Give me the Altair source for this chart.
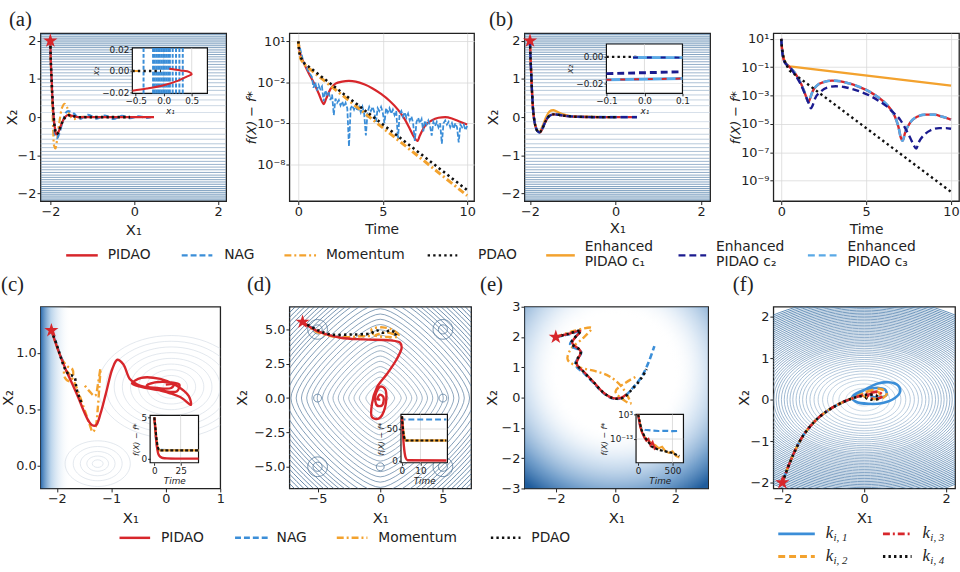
import altair as alt
import pandas as pd

# =============================== data ===============================
# (a) phase plane
A_PIDAO_X = [-2.0, -1.99, -1.97, -1.95, -1.92, -1.89, -1.86, -1.82, -1.76, -1.68, -1.6, -1.5, -1.35, -1.1, -0.6, 0.0, 0.47]
A_PIDAO_Y = [2.0, 1.5, 1.0, 0.5, 0.0, -0.3, -0.45, -0.42, -0.25, -0.05, 0.05, 0.04, 0.0, 0.0, 0.0, 0.0, 0.0]
A_NAG_X = [-2.0, -1.99, -1.97, -1.94, -1.91, -1.88, -1.84, -1.78, -1.7, -1.6, -1.45, -1.3, -1.1, -0.9, -0.7, -0.5, -0.3, -0.1, 0.1, 0.3, 0.4]
A_NAG_Y = [2.0, 1.5, 0.9, 0.3, -0.2, -0.5, -0.55, -0.4, -0.1, 0.15, 0.1, -0.05, 0.06, -0.04, 0.04, -0.05, 0.03, -0.03, 0.02, -0.02, 0.0]
A_MOM_X = [-2.0, -1.99, -1.97, -1.95, -1.93, -1.91, -1.88, -1.84, -1.78, -1.72, -1.66, -1.6, -1.54, -1.45, -1.3, -1.1]
A_MOM_Y = [2.0, 1.4, 0.8, 0.2, -0.4, -0.75, -0.82, -0.6, -0.1, 0.25, 0.35, 0.25, 0.05, -0.05, 0.0, 0.0]
A_PDAO_X = [-2.0, -1.99, -1.97, -1.95, -1.92, -1.89, -1.86, -1.82, -1.76, -1.68, -1.6, -1.5, -1.35, -1.1, -0.6, -0.1]
A_PDAO_Y = [2.0, 1.5, 1.0, 0.5, 0.0, -0.3, -0.44, -0.42, -0.26, -0.06, 0.04, 0.04, 0.0, 0.0, 0.0, 0.0]
AB_LEVELS = [0.12, 0.3, 0.45, 0.58, 0.7, 0.8, 0.9, 0.99, 1.08, 1.16, 1.24, 1.31, 1.38, 1.45, 1.52, 1.58,
             1.64, 1.7, 1.76, 1.82, 1.87, 1.92, 1.97, 2.02, 2.07, 2.12, 2.17]
# (a) inset
AI_PIDAO_X = [-0.56, -0.3, 0.0, 0.25, 0.42, 0.5, 0.46, 0.3, 0.1]
AI_PIDAO_Y = [-0.018, -0.016, -0.013, -0.009, -0.005, -0.003, -0.001, 0.0005, 0.002]
AI_PDAO_X = [-0.56, -0.05]
AI_PDAO_Y = [0.0, 0.0]
AI_MOM_X = [-0.56, -0.45]
AI_MOM_Y = [0.0, 0.0]
AI_NAG_X = [-0.36, -0.19, -0.16, -0.13, -0.1, -0.07, -0.04, -0.01, 0.02, 0.05, 0.08, 0.11, 0.16, 0.22, 0.28, 0.34]
# (a) right: f(X)-f* vs time (log10 exponents)
A2_PIDAO_T = [0, 0.1, 0.3, 0.6, 0.9, 1.2, 1.4, 1.5, 1.65, 1.9, 2.2, 2.6, 3.0, 3.4, 3.9, 4.4, 4.9, 5.4, 5.9, 6.3,
              6.6, 6.85, 7.05, 7.2, 7.5, 7.9, 8.3, 8.7, 9.1, 9.5, 10.0]
A2_PIDAO_E = [1, 0.2, -0.5, -1.3, -2.0, -2.8, -3.4, -3.6, -3.2, -2.5, -2.1, -1.95, -1.9, -1.95, -2.15, -2.45, -2.85,
              -3.35, -4.0, -4.7, -5.4, -6.0, -6.3, -5.9, -5.2, -4.8, -4.6, -4.55, -4.65, -4.85, -5.1]
A2_NAG_T = [0, 0.3, 0.6, 0.8, 0.9, 1.0, 1.1, 1.2, 1.3, 1.4, 1.5, 1.6, 1.7, 1.8, 1.9, 2.0, 2.1, 2.2, 2.3, 2.4,
            2.5, 2.6, 2.7, 2.8, 2.9, 3.0, 3.1, 3.2, 3.3, 3.4, 3.5, 3.6, 3.7, 3.8, 3.9, 4.0, 4.1, 4.2, 4.3, 4.4,
            4.5, 4.6, 4.7, 4.8, 4.9, 5.0, 5.1, 5.2, 5.3, 5.4, 5.5, 5.6, 5.7, 5.8, 5.9, 6.0, 6.1, 6.2, 6.3, 6.4,
            6.5, 6.6, 6.7, 6.8, 6.9, 7.0, 7.1, 7.2, 7.3, 7.4, 7.5, 7.6, 7.7, 7.8, 7.9, 8.0, 8.1, 8.2, 8.3, 8.4,
            8.5, 8.6, 8.7, 8.8, 8.9, 9.0, 9.1, 9.2, 9.3, 9.4, 9.5, 9.6, 9.7, 9.8, 9.9, 10.0]
A2_NAG_E = [1, -0.5, -1.2, -1.6, -2.4, -2.0, -2.6, -2.2, -2.5, -2.3, -3.4, -2.6, -2.9, -2.7, -3.3, -2.9, -4.4,
            -3.2, -3.5, -3.3, -3.7, -3.4, -3.8, -3.5, -3.9, -6.7, -3.9, -3.7, -4.0, -3.7, -4.1, -3.8, -4.2, -3.8,
            -4.3, -5.9, -4.2, -3.8, -4.1, -3.8, -4.2, -4.9, -3.9, -4.1, -3.8, -4.2, -5.0, -3.9, -4.2, -3.9, -4.3,
            -4.0, -4.4, -4.1, -6.2, -4.3, -4.1, -4.5, -4.2, -4.6, -4.3, -4.8, -4.5, -5.0, -6.3, -4.9, -4.6, -5.0,
            -4.7, -5.6, -4.8, -5.1, -4.8, -5.2, -5.9, -4.9, -5.2, -4.9, -5.3, -5.0, -6.5, -5.0, -4.8, -5.1, -4.9,
            -5.3, -5.0, -5.4, -5.0, -5.3, -6.4, -5.1, -5.3, -5.1, -5.5, -5.2]
A2_PDAO_T = [0, 0.05, 0.15, 0.35, 10.0]
A2_PDAO_E = [1, 0.2, -0.2, -0.6, -9.9]
A2_MOM_T = [0, 0.05, 0.15, 0.35, 10.0]
A2_MOM_E = [1, 0.3, -0.3, -0.7, -10.3]
# (b) phase plane
B_X = [-2.0, -1.99, -1.97, -1.95, -1.92, -1.88, -1.83, -1.77, -1.71, -1.64, -1.56, -1.46, -1.33, -1.15, -0.9, -0.5, 0.0, 0.5]
B_Y = [2.0, 1.6, 1.1, 0.6, 0.1, -0.2, -0.36, -0.4, -0.3, -0.12, 0.02, 0.07, 0.06, 0.03, 0.01, 0.0, 0.0, 0.0]
B_C1_X = [-2.0, -1.99, -1.97, -1.95, -1.92, -1.88, -1.83, -1.77, -1.7, -1.62, -1.54, -1.45, -1.33, -1.18, -1.0, -0.7, -0.3, 0.0]
B_C1_Y = [2.0, 1.6, 1.1, 0.6, 0.1, -0.2, -0.35, -0.37, -0.22, 0.0, 0.15, 0.18, 0.12, 0.06, 0.02, 0.01, 0.0, 0.0]
B_PDAO_X = [-2.0, -1.99, -1.97, -1.95, -1.92, -1.88, -1.83, -1.77, -1.71, -1.64, -1.56, -1.46, -1.33, -1.15, -0.9, -0.5, 0.0]
B_PDAO_Y = [2.0, 1.6, 1.1, 0.6, 0.1, -0.2, -0.36, -0.4, -0.3, -0.12, 0.02, 0.07, 0.06, 0.03, 0.01, 0.0, 0.0]
# (b) inset
BI_PDAO_X = [-0.1, -0.02]
BI_PDAO_Y = [0.0, 0.0]
BI_TOP_X = [-0.03, 0.1]
BI_TOP_Y = [-0.0005, -0.0006]
BI_MID_X = [-0.1, 0.1]
BI_MID_Y = [-0.0126, -0.0112]
BI_LOW_X = [-0.1, 0.1]
BI_LOW_Y = [-0.0172, -0.0163]
# (b) right (log10 exponents)
B2_C1_T = [0, 0.05, 0.15, 0.3, 0.5, 10.0]
B2_C1_E = [1, 0.3, -0.4, -0.8, -0.95, -2.3]
B2_PDAO_T = [0, 0.05, 0.15, 0.3, 0.5, 10.0]
B2_PDAO_E = [1, 0.3, -0.4, -0.85, -1.25, -9.8]
B2_C3_T = [0, 0.05, 0.15, 0.3, 0.5, 0.8, 1.1, 1.35, 1.5, 1.6, 1.7, 1.85, 2.1, 2.5, 3.0, 3.5, 4.0, 4.5, 5.0, 5.5,
           6.0, 6.4, 6.7, 6.9, 7.05, 7.15, 7.3, 7.6, 8.0, 8.5, 9.0, 9.5, 10.0]
B2_C3_E = [1, 0.2, -0.5, -0.8, -1.0, -1.4, -2.0, -2.7, -3.2, -3.5, -3.2, -2.7, -2.3, -2.05, -1.95, -2.0, -2.15,
           -2.35, -2.6, -2.95, -3.4, -3.9, -4.5, -5.2, -6.0, -6.2, -5.6, -4.9, -4.5, -4.35, -4.35, -4.5, -4.7]
B2_C2_T = [0, 0.05, 0.15, 0.3, 0.5, 0.8, 1.1, 1.4, 1.6, 1.75, 1.85, 2.0, 2.3, 2.7, 3.2, 3.7, 4.2, 4.7, 5.2, 5.7,
           6.2, 6.6, 7.0, 7.3, 7.6, 7.8, 7.95, 8.1, 8.4, 8.8, 9.3, 9.7, 10.0]
B2_C2_E = [1, 0.2, -0.5, -0.8, -1.0, -1.5, -2.1, -2.9, -3.5, -3.9, -3.7, -3.2, -2.75, -2.45, -2.35, -2.4, -2.55,
           -2.75, -3.0, -3.35, -3.75, -4.2, -4.7, -5.3, -6.0, -6.5, -6.75, -6.3, -5.8, -5.45, -5.3, -5.3, -5.35]
# (c)
C_PIDAO_X = [-2.1, -1.98, -1.85, -1.72, -1.61, -1.5, -1.42, -1.35, -1.28, -1.2, -1.1, -0.98, -0.89, -0.78, -0.66,
             -0.52, -0.2, 0.1, 0.3, 0.46, 0.42, 0.2, -0.1, -0.45, -0.62, -0.45, -0.1, 0.2, 0.25, 0.1, -0.2, -0.35,
             -0.15, 0.1, 0.15, 0.0]
C_PIDAO_Y = [1.2, 1.03, 0.87, 0.73, 0.61, 0.48, 0.4, 0.36, 0.36, 0.46, 0.64, 0.86, 0.94, 0.9, 0.77, 0.72, 0.68,
             0.64, 0.6, 0.54, 0.62, 0.71, 0.77, 0.78, 0.73, 0.7, 0.67, 0.66, 0.72, 0.74, 0.74, 0.71, 0.69, 0.69,
             0.72, 0.72]
C_MOM_X = [-2.1, -2.0, -1.9, -1.8, -1.72, -1.7, -1.76, -1.85, -1.86, -1.78, -1.68, -1.58, -1.48, -1.4, -1.34,
           -1.29, -1.25, -1.22, -1.2, -1.24, -1.3, -1.4, -1.5]
C_MOM_Y = [1.2, 1.06, 0.94, 0.88, 0.86, 0.8, 0.75, 0.78, 0.85, 0.82, 0.74, 0.62, 0.48, 0.37, 0.3, 0.34, 0.5, 0.7,
           0.86, 0.74, 0.62, 0.66, 0.72]
C_PDAO_X = [-2.1, -2.0, -1.92, -1.85, -1.78, -1.72, -1.67, -1.65, -1.62, -1.58, -1.55]
C_PDAO_Y = [1.2, 1.07, 0.95, 0.86, 0.81, 0.8, 0.78, 0.72, 0.65, 0.6, 0.56]
C_NAG_X = [-2.1, -2.02, -1.95, -1.88]
C_NAG_Y = [1.2, 1.1, 1.0, 0.92]
C_RING_X = [-1.25] * 5 + [0.1] * 9
C_RING_Y = [0.02] * 5 + [0.7] * 9
C_RING_R = [0.1, 0.2, 0.32, 0.45, 0.6, 0.15, 0.3, 0.45, 0.6, 0.75, 0.9, 1.05, 1.2, 1.35]
CI_RED_T = [0, 1, 2, 3, 4, 6, 8, 12, 20, 30, 42]
CI_RED = [5.0, 3.6, 2.0, 1.0, 0.5, 0.2, 0.08, 0.03, 0.01, 0.01, 0.01]
CI_PDAO_T = [0, 1, 2, 3, 4, 5, 42]
CI_PDAO = [5.0, 3.8, 2.5, 1.6, 1.15, 1.0, 1.0]
CI_MOM = [5.0, 3.5, 2.2, 1.4, 1.1, 1.0, 1.0]
CI_NAG_T = [0, 0.5, 1, 2, 3, 42]
CI_NAG = [5.0, 3.8, 3.0, 1.8, 1.1, 1.0]
# (d)
D_PIDAO_X = [-6.2, -5.0, -3.15, -1.31, 0.79, 1.58, 1.71, 1.31, 0.53, -0.26, -0.66, -0.66, -0.13, 0.39, 0.39,
             0.0, -0.39, -0.26, 0.13, 0.26, -0.05, -0.2, 0.0]
D_PIDAO_Y = [5.54, 4.87, 4.39, 4.27, 4.2, 4.03, 3.67, 2.83, 1.75, 0.78, -0.42, -1.39, -1.5, -0.66, 0.66, 0.83,
             0.18, -0.54, -0.54, 0.06, 0.25, -0.1, -0.1]
D_PDAO_X = [-6.2, -5.0, -3.94, -2.36, -0.79, -0.26, 0.26, 0.79, 1.31, 0.92]
D_PDAO_Y = [5.54, 4.95, 4.63, 4.63, 4.7, 4.92, 4.75, 4.92, 4.68, 4.58]
D_MOM_X = [-6.2, -5.0, -3.5, -1.5, -0.6, -0.7, 0.2, 1.0, 1.5, 0.5, -0.4, 0.5, 1.2]
D_MOM_Y = [5.54, 4.8, 4.45, 4.5, 4.6, 5.0, 5.15, 4.95, 4.5, 4.45, 4.55, 4.78, 4.6]
D_NAG_X = [-6.2, -5.7, -5.2]
D_NAG_Y = [5.54, 5.25, 5.05]
D_RINGS = [0.6, 1.1, 1.6, 2.0, 2.4, 2.8, 3.2, 3.6, 4.0, 4.4, 4.8, 5.2, 5.6, 6.0, 6.4, 6.8, 7.2, 7.6, 8.0, 8.3,
           8.6, 8.9, 9.2, 9.5, 9.8, 10.1, 10.4, 10.7, 11.0, 11.3, 11.6, 11.9, 12.2]
D_WELL_X = [-5, -5, 5, 5, -5, -5, 5, 5, 0, -5, 5]
D_WELL_Y = [5, 5, 5, 5, -5, -5, -5, -5, -5, 0, 0]
D_WELL_R = [0.35, 0.75, 0.35, 0.75, 0.35, 0.75, 0.35, 0.75, 0.3, 0.3, 0.3]
DI_NAG_T = [0, 0.5, 24]
DI_NAG = [70, 65, 65]
DI_MOM_T = [0, 0.5, 1, 1.5, 2, 24]
DI_MOM = [70, 55, 42, 35, 32, 32]
DI_PDAO = [70, 52, 40, 34, 32, 32]
DI_RED_T = [0, 0.5, 1, 1.5, 2, 3, 24]
DI_RED = [70, 45, 25, 12, 5, 1, 0.5]
# (e)
E_PDAO_X = [-2.0, -1.6, -1.16, -1.48, -1.16, -1.32, -1.05, -0.73, -0.41, -0.09, 0.24, 0.56, 0.88, 1.04]
E_PDAO_Y = [2.0, 2.1, 2.21, 1.8, 1.53, 1.15, 0.83, 0.5, 0.17, -0.02, -0.01, 0.28, 0.66, 0.94]
E_NAG_X = [-2.0, -1.6, -1.2, -1.52, -1.15, -1.35, -1.05, -0.73, -0.41, -0.09, 0.24, 0.56, 0.88, 1.1, 1.3]
E_NAG_Y = [2.0, 2.08, 2.18, 1.75, 1.5, 1.1, 0.8, 0.48, 0.15, -0.03, 0.0, 0.3, 0.7, 1.15, 1.7]
E_PIDAO_X = [-2.0, -1.6, -1.18, -1.45, -1.17, -1.3, -1.03, -0.72, -0.4, -0.08, 0.2, 0.35]
E_PIDAO_Y = [2.0, 2.1, 2.2, 1.82, 1.52, 1.12, 0.82, 0.5, 0.16, -0.02, 0.0, 0.1]
E_MOM_X = [-2.0, -1.4, -0.8, -1.1, -1.5, -1.6, -1.2, -0.7, -0.2, 0.25, 0.5, 0.3, 0.0, 0.35, 0.7]
E_MOM_Y = [2.0, 2.2, 2.3, 1.95, 1.6, 1.25, 1.0, 0.88, 0.7, 0.3, -0.2, -0.1, 0.2, 0.5, 0.7]
EI_NAG_T = [0, 20, 50, 100, 200, 300, 400, 500, 600]
EI_NAG_E = [3, -3, -6, -7, -7.5, -7.8, -7.6, -7.9, -7.7]
EI_RED_T = [0, 30, 60, 90, 120, 150, 180, 210, 240, 260]
EI_RED_E = [3, -5, -9, -12, -14, -13, -17, -15, -19, -18]
EI_MOM_T = [0, 50, 100, 150, 200, 250, 300, 350, 400, 450, 500, 550, 600]
EI_MOM_E = [3, -8, -12, -14, -16, -17, -19, -18, -21, -22, -21, -24, -25]
EI_PDAO_T = [0, 50, 100, 150, 200, 300, 400, 500, 600]
EI_PDAO_E = [3, -7, -12, -15, -18, -20, -21, -22, -24]
# (f)
F_BASE_X = [-2.0, -1.85, -1.7, -1.5, -1.3, -1.1, -0.9, -0.7, -0.5, -0.3]
F_BASE_Y = [-2.0, -1.6, -1.25, -0.88, -0.62, -0.42, -0.27, -0.15, -0.05, 0.03]
F_K1_X = F_BASE_X + [-0.05, 0.3, 0.6, 0.82, 0.88, 0.75, 0.45, 0.1, -0.2, -0.3, -0.1, 0.25, 0.5, 0.55, 0.35, 0.15]
F_K1_Y = F_BASE_Y + [0.2, 0.38, 0.42, 0.35, 0.2, 0.04, -0.08, -0.1, -0.05, 0.05, 0.2, 0.28, 0.25, 0.12, 0.05, 0.08]
F_K2_X = F_BASE_X + [-0.1, 0.15, 0.4, 0.55, 0.45, 0.15, -0.05, 0.1, 0.35, 0.4]
F_K2_Y = F_BASE_Y + [0.12, 0.22, 0.26, 0.16, 0.04, 0.03, 0.12, 0.2, 0.18, 0.1]
F_K3_X = F_BASE_X + [-0.1, 0.15, 0.35, 0.45, 0.32, 0.1, 0.12, 0.3]
F_K3_Y = F_BASE_Y + [0.09, 0.16, 0.19, 0.1, 0.02, 0.06, 0.13, 0.12]
F_K4_X = F_BASE_X + [-0.1, 0.1, 0.3, 0.36, 0.15, 0.04, 0.12]
F_K4_Y = F_BASE_Y + [0.08, 0.12, 0.1, 0.03, 0.0, 0.05, 0.08]
F_RINGS = [0.25, 0.45, 0.62, 0.77, 0.9, 1.02, 1.13, 1.23, 1.33, 1.42, 1.51, 1.59, 1.67, 1.75, 1.82, 1.89, 1.96,
           2.03, 2.1, 2.16, 2.22, 2.28, 2.34, 2.4, 2.46, 2.52, 2.58, 2.64, 2.7, 2.76, 2.82, 2.88, 2.94, 3.0, 3.06,
           3.12, 3.18, 3.24, 3.3, 3.36, 3.42, 3.48, 3.54, 3.6, 3.66, 3.72, 3.78, 3.84, 3.9, 3.96, 4.02]

# =============================== styles ===============================
RED = "#d7262b"
BLUE = "#3b8ed8"
ORANGE = "#f3a22e"
BLACK = "#111111"
NAVY = "#1b1b8f"
LBLUE = "#5aa9e6"
FONT = "DejaVu Sans"
SERIF = "Liberation Serif"
DASH_NAG = [6, 3]
DASH_MOM = [7, 3, 2, 3]
DASH_DOT = [2.4, 3.2]
DASH_C = [7, 4]
STAR = ("M0,-1L0.2245,-0.309L0.9511,-0.309L0.3633,0.118L0.5878,0.809L0,0.382L-0.5878,0.809"
        "L-0.3633,0.118L-0.9511,-0.309L-0.2245,-0.309Z")
ELL = "M-1,0A1,0.62,0,1,1,1,0A1,0.62,0,1,1,-1,0Z"
ELL_C = "M-1,0A1,0.7,0,1,1,1,0A1,0.7,0,1,1,-1,0Z"
PINCH = "M1,0C1,0.25,0.25,1,0,1C-0.25,1,-1,0.25,-1,0C-1,-0.25,-0.25,-1,0,-1C0.25,-1,1,-0.25,1,0Z"
CIRC = "M-1,0A1,1,0,1,1,1,0A1,1,0,1,1,-1,0Z"
SUP = str.maketrans("-0123456789", "⁻⁰¹²³⁴⁵⁶⁷⁸⁹")
ONE = pd.DataFrame({"k": [0]})


def pw(exps):
    return [10.0 ** e for e in exps]


def log_labels(exps):
    expr = "''"
    for e in exps:
        lo, hi = 10.0 ** (e - 0.5), 10.0 ** (e + 0.5)
        expr = f"(datum.value > {lo:.4e} && datum.value < {hi:.4e}) ? '10{str(e).translate(SUP)}' : " + expr
    return expr


def main_axis(orient, values, title, tpos, span, fmt=None, label_expr=None, grid=False, italic=False, tsize=15):
    kw = dict(orient=orient, values=values, title=title, grid=grid, domain=False, tickSize=3.5,
              tickColor="#222", tickWidth=1, labelFont=FONT, labelFontSize=13, labelColor="#222",
              labelFlush=False, labelOverlap=False, labelPadding=1, titleFont=FONT, titleFontSize=tsize,
              titleFontWeight="normal", titleColor="#222", titleBaseline="middle", titleAlign="center")
    if orient == "bottom":
        kw.update(titleX=span / 2, titleY=tpos)
    else:
        kw.update(titleX=tpos, titleY=span / 2, titleAngle=270)
    if fmt:
        kw["format"] = fmt
    if label_expr:
        kw["labelExpr"] = label_expr
    if grid:
        kw.update(gridColor="#d9d9d9", gridWidth=0.8)
    if italic:
        kw["titleFontStyle"] = "italic"
    return alt.Axis(**kw)


def inset_axis(orient, values, title, offset, fmt=None, label_expr=None, tsize=9):
    kw = dict(orient=orient, values=values, title=title, offset=offset, zindex=1, grid=False, domain=False,
              tickSize=2.5, tickColor="#222", labelFont=FONT, labelFontSize=9, labelColor="#222",
              labelFlush=False, labelOverlap=False, labelPadding=1, titleFont=FONT, titleFontSize=tsize,
              titleFontWeight="normal", titleFontStyle="italic", titlePadding=1, titleColor="#222")
    if fmt:
        kw["format"] = fmt
    if label_expr:
        kw["labelExpr"] = label_expr
    return alt.Axis(**kw)


class Panel:
    def __init__(self, xdom, ydom, xaxis, yaxis, ylog=False, xrange=None, yrange=None):
        sx = dict(domain=xdom, nice=False, zero=False)
        sy = dict(domain=ydom, nice=False, zero=False)
        if xrange:
            sx["range"] = xrange
        if yrange:
            sy["range"] = yrange
        if ylog:
            sy["type"] = "log"
        self.sx, self.sy = alt.Scale(**sx), alt.Scale(**sy)
        self.ax, self.ay = xaxis, yaxis
        self.xdom, self.ydom = xdom, ydom

    def X(self, f="x"):
        return alt.X(f, type="quantitative", scale=self.sx, axis=self.ax)

    def Y(self, f="y"):
        return alt.Y(f, type="quantitative", scale=self.sy, axis=self.ay)


def line(P, xs, ys, color, width=2.2, dash=None, interp="catmull-rom", opacity=1.0):
    df = pd.DataFrame({"x": xs, "y": ys, "i": list(range(len(xs)))})
    kw = dict(color=color, strokeWidth=width, interpolate=interp, clip=True, strokeCap="butt", opacity=opacity)
    if dash:
        kw["strokeDash"] = dash
    return alt.Chart(df).mark_line(**kw).encode(x=P.X(), y=P.Y(), order=alt.Order("i:Q"))


def star(P, x, y):
    df = pd.DataFrame({"x": [x], "y": [y]})
    return alt.Chart(df).mark_point(shape=STAR, filled=True, color=RED, size=230, opacity=1,
                                    strokeWidth=0).encode(x=P.X(), y=P.Y())


def hcontours(P, levels, ymax, crange):
    vals = list(levels) + [-v for v in levels]
    df = pd.DataFrame({"y": vals, "lvl": [abs(v) / ymax for v in vals]})
    return alt.Chart(df).mark_rule(strokeWidth=0.8, clip=True).encode(
        y=P.Y("y"), color=alt.Color("lvl:Q", scale=alt.Scale(domain=[0, 1], range=crange), legend=None))


def size_scale(rmax, pxu):
    return alt.Scale(type="pow", exponent=2, domain=[0, rmax], range=[0, (2 * rmax * pxu) ** 2])


def rings(P, xs, ys, rs, shape, sscale, crange=None, color=None, width=0.8):
    df = pd.DataFrame({"x": xs, "y": ys, "r": rs})
    kw = dict(shape=shape, filled=False, strokeWidth=width, clip=True, opacity=1)
    if color:
        kw["color"] = color
    enc = dict(x=P.X(), y=P.Y(), size=alt.Size("r:Q", scale=sscale, legend=None))
    if crange:
        enc["color"] = alt.Color("r:Q", scale=alt.Scale(domain=[0, max(rs)], range=crange), legend=None)
    return alt.Chart(df).mark_point(**kw).encode(**enc)


def box(P, fill="white", stroke="#111", sw=1.2):
    df = pd.DataFrame({"x": [P.xdom[0]], "x2": [P.xdom[1]], "y": [P.ydom[0]], "y2": [P.ydom[1]]})
    return alt.Chart(df).mark_rect(fill=fill, stroke=stroke, strokeWidth=sw, clip=True).encode(
        x=P.X("x"), x2=alt.X2("x2"), y=P.Y("y"), y2=alt.Y2("y2"))


def vrules(P, xs, color="#cfcfcf", width=0.7, dash=None):
    df = pd.DataFrame({"x": xs, "y0": [P.ydom[0]] * len(xs), "y1": [P.ydom[1]] * len(xs)})
    kw = dict(color=color, strokeWidth=width)
    if dash:
        kw["strokeDash"] = dash
    return alt.Chart(df).mark_rule(**kw).encode(x=P.X("x"), y=P.Y("y0"), y2=alt.Y2("y1"))


def hrules(P, ys, color="#cfcfcf", width=0.7):
    df = pd.DataFrame({"y": ys, "x0": [P.xdom[0]] * len(ys), "x1": [P.xdom[1]] * len(ys)})
    return alt.Chart(df).mark_rule(color=color, strokeWidth=width).encode(
        y=P.Y("y"), x=P.X("x0"), x2=alt.X2("x1"))


def gradient_rect(P, x0, x1, fill):
    df = pd.DataFrame({"x": [x0], "x2": [x1], "y": [P.ydom[0]], "y2": [P.ydom[1]]})
    return alt.Chart(df).mark_rect(fill=fill, clip=True).encode(
        x=P.X("x"), x2=alt.X2("x2"), y=P.Y("y"), y2=alt.Y2("y2"))


def txt(s, x, y, size=14, font=FONT, style="normal", align="left", color="#222"):
    return alt.Chart(ONE).mark_text(text=s, align=align, baseline="middle", font=font, fontSize=size,
                                    fontStyle=style, color=color).encode(x=alt.value(x), y=alt.value(y))


def seg(x0, x1, y, color, dash=None, width=2.5):
    kw = dict(color=color, strokeWidth=width, strokeCap="butt")
    if dash:
        kw["strokeDash"] = dash
    return alt.Chart(ONE).mark_rule(**kw).encode(x=alt.value(x0), x2=alt.value(x1), y=alt.value(y))


def plabel(s, x, y):
    return txt(s, x, y, size=21, font=SERIF)


def make_panel(main, inset=None, w=188, h=170):
    m = alt.layer(*main)
    if inset:
        ch = alt.layer(m, alt.layer(*inset)).resolve_scale(x="independent", y="independent")
    else:
        ch = m
    return ch.properties(width=w, height=h)


def spacer(w):
    return alt.Chart(ONE).mark_point(opacity=0).encode(x=alt.value(0), y=alt.value(0)).properties(
        width=w, height=1, view=alt.ViewBackground(stroke="transparent"))


AB_CR = ["#d3dde7", "#3d72a1"]
H1, H2 = 170, 184
TY1, TY2 = 29, 29

# ------------------------------------------------------------------ (a)
PA = Panel([-2.235, 2.19], [-2.2, 2.2],
           main_axis("bottom", [-2, 0, 2], "X₁", TY1, 188, fmt="d"),
           main_axis("left", [-2, -1, 0, 1, 2], "X₂", -29, H1, fmt="d"))
PAI = Panel([-0.56, 0.78], [-0.0205, 0.021],
            inset_axis("bottom", [-0.5, 0, 0.5], "x₁", 61 - H1, fmt=".1f"),
            inset_axis("left", [-0.02, 0, 0.02], "x₂", -93, fmt=".2f"),
            xrange=[93, 169], yrange=[61, 15])
legend1 = []
for x0, x1, col, dash, lab, tx in [(26, 58, RED, None, "PIDAO", 68), (143, 174, BLUE, DASH_NAG, "NAG", 186),
                                   (247, 279, ORANGE, DASH_MOM, "Momentum", 289),
                                   (392, 422, BLACK, DASH_DOT, "PDAO", 443)]:
    legend1 += [seg(x0, x1, 225, col, dash), txt(lab, tx, 225)]
for x0, x1, col, dash, lab, tx in [(512, 541, ORANGE, None, "PIDAO c₁", 551),
                                   (646, 674, NAVY, DASH_C, "PIDAO c₂", 684),
                                   (777, 806, LBLUE, DASH_C, "PIDAO c₃", 817)]:
    legend1 += [seg(x0, x1, 225, col, dash), txt("Enhanced", tx, 217), txt(lab, tx, 232)]
anchor = alt.Chart(ONE).mark_point(opacity=0, size=1).encode(x=alt.value(-36), y=alt.value(-28))
A = make_panel(
    [hcontours(PA, AB_LEVELS, 2.2, AB_CR),
     line(PA, A_MOM_X, A_MOM_Y, ORANGE, 2.2, DASH_MOM),
     line(PA, A_NAG_X, A_NAG_Y, BLUE, 2.2, DASH_NAG),
     line(PA, A_PIDAO_X, A_PIDAO_Y, RED, 2.2),
     line(PA, A_PDAO_X, A_PDAO_Y, BLACK, 2.6, DASH_DOT),
     star(PA, -2, 2), anchor, plabel("(a)", -32, -13)] + legend1,
    [box(PAI), vrules(PAI, [0.0, 0.5]),
     vrules(PAI, AI_NAG_X, color=BLUE, width=2.0, dash=[4, 2]),
     line(PAI, AI_MOM_X, AI_MOM_Y, ORANGE, 2.0, DASH_MOM),
     line(PAI, AI_PIDAO_X, AI_PIDAO_Y, RED, 2.0),
     line(PAI, AI_PDAO_X, AI_PDAO_Y, BLACK, 2.4, DASH_DOT)],
    w=188, h=H1)

# ------------------------------------------------------------------ (a) right
PA2 = Panel([-0.53, 10.41], [10 ** -10.7, 10 ** 1.6],
            main_axis("bottom", [0, 5, 10], "Time", TY1, 187, fmt="d", grid=True, tsize=14),
            main_axis("left", [10, 1e-2, 1e-5, 1e-8], "f(X) − f*", -38, H1, label_expr=log_labels([1, -2, -5, -8]),
                      grid=True, italic=True, tsize=13), ylog=True)
A2 = make_panel(
    [line(PA2, A2_PIDAO_T, pw(A2_PIDAO_E), RED, 2.2, interp="monotone"),
     line(PA2, A2_NAG_T, pw(A2_NAG_E), BLUE, 1.8, [5, 2], interp="linear"),
     line(PA2, A2_MOM_T, pw(A2_MOM_E), ORANGE, 3.0, DASH_MOM, interp="linear"),
     line(PA2, A2_PDAO_T, pw(A2_PDAO_E), BLACK, 2.6, DASH_DOT, interp="linear")],
    w=187, h=H1)

# ------------------------------------------------------------------ (b)
PB = Panel([-2.13, 2.21], [-2.2, 2.2],
           main_axis("bottom", [-2, 0, 2], "X₁", 27, 188, fmt="d"),
           main_axis("left", [-2, -1, 0, 1, 2], "X₂", -32, H1, fmt="d"))
PBI = Panel([-0.1, 0.1], [-0.0274, 0.0096],
            inset_axis("bottom", [-0.1, 0, 0.1], "x₁", 61 - H1, fmt=".1f"),
            inset_axis("left", [-0.02, 0], "x₂", -83, fmt=".2f"),
            xrange=[83, 160], yrange=[61, 11])
B = make_panel(
    [hcontours(PB, AB_LEVELS, 2.2, AB_CR),
     line(PB, B_C1_X, B_C1_Y, ORANGE, 2.4),
     line(PB, B_X, B_Y, RED, 2.4),
     line(PB, B_X, B_Y, LBLUE, 2.6, DASH_C),
     line(PB, B_X, B_Y, NAVY, 2.2, DASH_C),
     line(PB, B_PDAO_X, B_PDAO_Y, BLACK, 2.4, DASH_DOT),
     star(PB, -2, 2), plabel("(b)", -36, -13)],
    [box(PBI), vrules(PBI, [0.0]), hrules(PBI, [0.0, -0.02], color="#e3e3e3"),
     line(PBI, BI_PDAO_X, BI_PDAO_Y, BLACK, 2.4, DASH_DOT, interp="linear"),
     line(PBI, BI_TOP_X, BI_TOP_Y, LBLUE, 3.0, interp="linear"),
     line(PBI, BI_TOP_X, BI_TOP_Y, NAVY, 2.0, [5, 9], interp="linear"),
     line(PBI, BI_MID_X, BI_MID_Y, NAVY, 3.0, DASH_C, interp="linear"),
     line(PBI, BI_LOW_X, BI_LOW_Y, LBLUE, 3.0, interp="linear"),
     line(PBI, BI_LOW_X, BI_LOW_Y, RED, 2.0, [5, 9], interp="linear")],
    w=188, h=H1)

# ------------------------------------------------------------------ (b) right
PB2 = Panel([-0.465, 10.47], [10 ** -10.45, 10 ** 1.4],
            main_axis("bottom", [0, 5, 10], "Time", TY1, 188, fmt="d", grid=True, tsize=14),
            main_axis("left", [10, 1e-1, 1e-3, 1e-5, 1e-7, 1e-9], "f(X) − f*", -38, H1,
                      label_expr=log_labels([1, -1, -3, -5, -7, -9]), grid=True, italic=True, tsize=13),
            ylog=True)
B2 = make_panel(
    [line(PB2, B2_C1_T, pw(B2_C1_E), ORANGE, 2.4, interp="linear"),
     line(PB2, B2_C3_T, pw(B2_C3_E), RED, 2.4, interp="monotone"),
     line(PB2, B2_C3_T, pw(B2_C3_E), LBLUE, 2.6, DASH_C, interp="monotone"),
     line(PB2, B2_C2_T, pw(B2_C2_E), NAVY, 2.4, DASH_C, interp="monotone"),
     line(PB2, B2_PDAO_T, pw(B2_PDAO_E), BLACK, 2.4, DASH_DOT, interp="linear")],
    w=188, h=H1)

# ------------------------------------------------------------------ (c)
PC = Panel([-2.3, 1.0], [-0.2, 1.41],
           main_axis("bottom", [-2, -1, 0, 1], "X₁", TY2, 182, fmt="d"),
           main_axis("left", [0.0, 0.5, 1.0], "X₂", -33, H2, fmt=".1f"))
PCI = Panel([-4, 42], [-0.5, 5.25],
            inset_axis("bottom", [0, 25], "Time", 158 - H2, fmt="d"),
            inset_axis("left", [0, 5], "f(X) − f*", -111, fmt="d", tsize=8),
            xrange=[111, 160], yrange=[158, 110])
C_GRAD = alt.LinearGradient(gradient="linear", x1=0, x2=1, y1=0, y2=0,
                            stops=[alt.GradientStop(color="#2a6aad", offset=0),
                                   alt.GradientStop(color="rgba(120,170,215,0.5)", offset=0.35),
                                   alt.GradientStop(color="rgba(255,255,255,0)", offset=1)])
legend2 = []
for x0, x1, col, dash, lab, tx in [(80, 111, RED, None, "PIDAO", 122), (197, 230, BLUE, DASH_NAG, "NAG", 239),
                                   (300, 331, ORANGE, DASH_MOM, "Momentum", 342),
                                   (456, 486, BLACK, DASH_DOT, "PDAO", 497)]:
    legend2 += [seg(x0, x1, 234, col, dash), txt(lab, tx, 234)]
C = make_panel(
    [gradient_rect(PC, -2.3, -1.75, C_GRAD),
     rings(PC, C_RING_X, C_RING_Y, C_RING_R, ELL_C, size_scale(1.35, 55), color="#d6dee6", width=0.7),
     line(PC, C_MOM_X, C_MOM_Y, ORANGE, 2.4, DASH_MOM),
     line(PC, C_NAG_X, C_NAG_Y, BLUE, 2.2, DASH_NAG),
     line(PC, C_PIDAO_X, C_PIDAO_Y, RED, 2.4),
     line(PC, C_PDAO_X, C_PDAO_Y, BLACK, 2.6, DASH_DOT),
     star(PC, -2.1, 1.2), plabel("(c)", -40, -22)] + legend2,
    [box(PCI), vrules(PCI, [25]),
     line(PCI, CI_NAG_T, CI_NAG, BLUE, 2.0, DASH_NAG, interp="monotone"),
     line(PCI, CI_PDAO_T, CI_MOM, ORANGE, 2.4, interp="monotone"),
     line(PCI, CI_RED_T, CI_RED, RED, 2.4, interp="monotone"),
     line(PCI, CI_PDAO_T, CI_PDAO, BLACK, 2.2, [3, 2], interp="monotone")],
    w=182, h=H2)

# ------------------------------------------------------------------ (d)
PD = Panel([-7.25, 7.25], [-6.58, 6.65],
           main_axis("bottom", [-5, 0, 5], "X₁", TY2, 184, fmt="d"),
           main_axis("left", [-5, -2.5, 0, 2.5, 5], "X₂", -48, H2, fmt=".1f"))
PDI = Panel([-0.5, 24.5], [-3, 73],
            inset_axis("bottom", [0, 10], "Time", 158 - H2, fmt="d"),
            inset_axis("left", [0, 50], "f(X) − f*", -113, fmt="d", tsize=8),
            xrange=[113, 160], yrange=[158, 109])
D_SIZE = size_scale(12.2, 13.3)
D = make_panel(
    [rings(PD, [0] * len(D_RINGS), [0] * len(D_RINGS), D_RINGS, PINCH, D_SIZE, crange=["#a7b9ca", "#2f5f8b"]),
     rings(PD, D_WELL_X, D_WELL_Y, D_WELL_R, CIRC, D_SIZE, color="#55799b"),
     line(PD, D_NAG_X, D_NAG_Y, BLUE, 2.2, DASH_NAG),
     line(PD, D_MOM_X, D_MOM_Y, ORANGE, 2.4, DASH_MOM),
     line(PD, D_PIDAO_X, D_PIDAO_Y, RED, 2.4),
     line(PD, D_PDAO_X, D_PDAO_Y, BLACK, 2.6, DASH_DOT),
     star(PD, -6.2, 5.54), plabel("(d)", -43, -22)],
    [box(PDI), vrules(PDI, [10]), hrules(PDI, [50]),
     line(PDI, DI_NAG_T, DI_NAG, BLUE, 2.2, DASH_NAG, interp="monotone"),
     line(PDI, DI_MOM_T, DI_MOM, ORANGE, 2.4, interp="monotone"),
     line(PDI, DI_RED_T, DI_RED, RED, 2.4, interp="monotone"),
     line(PDI, DI_MOM_T, DI_PDAO, BLACK, 2.2, [3, 2], interp="monotone")],
    w=184, h=H2)

# ------------------------------------------------------------------ (e)
PE = Panel([-3.05, 3.1], [-3, 3],
           main_axis("bottom", [-2, 0, 2], "X₁", TY2, 186, fmt="d"),
           main_axis("left", [-3, -2, -1, 0, 1, 2, 3], "X₂", -33, H2, fmt="d"))
PEI = Panel([-30, 660], [10 ** -28.4, 1e3],
            inset_axis("bottom", [0, 500], "Time", 158 - H2, fmt="d"),
            inset_axis("left", [1e3, 1e-13], "f(X) − f*", -113, label_expr=log_labels([3, -13]), tsize=8),
            ylog=True, xrange=[113, 161], yrange=[158, 109])
E_GRAD = alt.RadialGradient(gradient="radial", x1=0.5, y1=0.36, r1=0.0, x2=0.5, y2=0.36, r2=0.78,
                            stops=[alt.GradientStop(color="rgba(255,255,255,0)", offset=0),
                                   alt.GradientStop(color="rgba(255,255,255,0)", offset=0.4),
                                   alt.GradientStop(color="rgba(170,200,230,0.45)", offset=0.62),
                                   alt.GradientStop(color="rgba(80,135,190,0.8)", offset=0.85),
                                   alt.GradientStop(color="#1f5c9c", offset=1)])
E = make_panel(
    [gradient_rect(PE, -3.05, 3.1, E_GRAD),
     line(PE, E_MOM_X, E_MOM_Y, ORANGE, 2.4, DASH_MOM),
     line(PE, E_NAG_X, E_NAG_Y, BLUE, 2.6, DASH_NAG),
     line(PE, E_PIDAO_X, E_PIDAO_Y, RED, 2.4),
     line(PE, E_PDAO_X, E_PDAO_Y, BLACK, 2.6, DASH_DOT),
     star(PE, -2, 2), plabel("(e)", -45, -22)],
    [box(PEI), vrules(PEI, [500]), hrules(PEI, [1e-13]),
     line(PEI, EI_NAG_T, pw(EI_NAG_E), BLUE, 2.2, DASH_NAG, interp="linear"),
     line(PEI, EI_MOM_T, pw(EI_MOM_E), ORANGE, 2.2, interp="linear"),
     line(PEI, EI_RED_T, pw(EI_RED_E), RED, 2.2, interp="linear"),
     line(PEI, EI_PDAO_T, pw(EI_PDAO_E), BLACK, 2.2, [3, 2], interp="linear")],
    w=186, h=H2)

# ------------------------------------------------------------------ (f)
PF = Panel([-2.22, 2.22], [-2.14, 2.24],
           main_axis("bottom", [-2, 0, 2], "X₁", TY2, 184, fmt="d"),
           main_axis("left", [-2, -1, 0, 1, 2], "X₂", -30, H2, fmt="d"))
legend_f = []
for x0, x1, col, dash, sub, tx, ty in [(5, 42, BLUE, None, "i, 1", 53, 230), (111, 140, RED, DASH_MOM, "i, 3", 151, 230),
                                       (5, 42, ORANGE, DASH_C, "i, 2", 53, 253),
                                       (111, 140, BLACK, DASH_DOT, "i, 4", 151, 253)]:
    legend_f += [seg(x0, x1, ty, col, dash, 3.0),
                 txt("k", tx, ty - 1, size=17, font=SERIF, style="italic"),
                 txt(sub, tx + 8, ty + 4, size=11, font=SERIF, style="italic")]
F = make_panel(
    [rings(PF, [0] * len(F_RINGS), [0] * len(F_RINGS), F_RINGS, ELL, size_scale(4.02, 41.3),
           crange=["#d0dde9", "#3a72a5"]),
     line(PF, F_K1_X, F_K1_Y, BLUE, 2.6),
     line(PF, F_K2_X, F_K2_Y, ORANGE, 2.6, DASH_C),
     line(PF, F_K3_X, F_K3_Y, RED, 2.6, DASH_MOM),
     line(PF, F_K4_X, F_K4_Y, BLACK, 2.6, DASH_DOT),
     star(PF, -2, -2), plabel("(f)", -41, -22)] + legend_f,
    w=184, h=H2)

# ------------------------------------------------------------------ layout (flow grid, 8 cells per row)
cells = [spacer(1), A, spacer(61), A2, spacer(49), B, spacer(62), B2,
         spacer(7), C, spacer(64), D, spacer(51), E, spacer(64), F]
chart = alt.concat(*cells, columns=8, align="none", bounds="flush",
                   spacing={"row": 107, "column": 0}).resolve_scale(
    color="independent", size="independent").properties(
    padding=0, background="white").configure_view(stroke="#222", strokeWidth=1.3)

chart.save("out.html", embed_options={"renderer": "svg", "actions": False})
